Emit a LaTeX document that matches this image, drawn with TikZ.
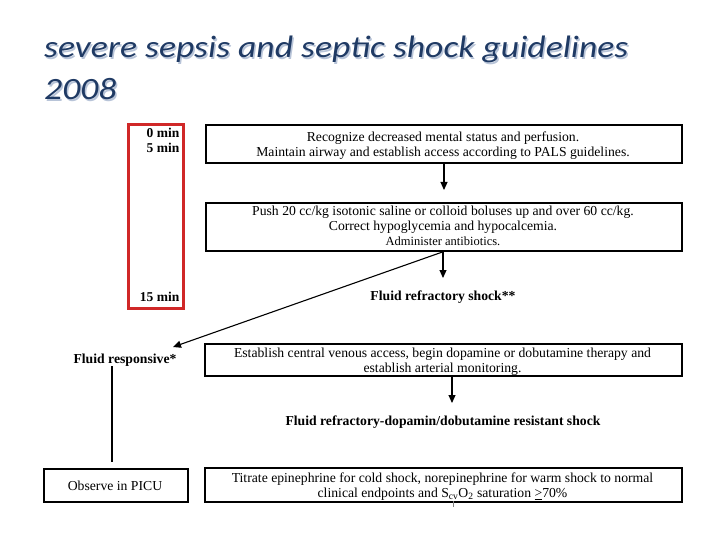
\documentclass[tikz,border=0pt]{standalone}
\usepackage{fontspec}
\setmainfont{Liberation Serif}
\newfontfamily\titlefont{Carlito}
\usetikzlibrary{arrows.meta}
\definecolor{titleblue}{HTML}{1F3A64}
\definecolor{shadowblue}{HTML}{B8C4D8}
\definecolor{boxred}{HTML}{D02828}
\tikzset{
  flowbox/.style={draw=black, line width=1.8pt, inner sep=0pt, anchor=north west},
  body/.style={font=\fontsize{13.7}{15.5}\selectfont, align=center, inner sep=0pt},
  boldlab/.style={font=\fontsize{13.7}{15}\selectfont\bfseries, inner sep=0pt},
  minlab/.style={font=\fontsize{13.5}{15}\selectfont\bfseries, inner sep=0pt, anchor=east},
  flowarrow/.style={-{Triangle[length=8pt,width=7pt]}, line width=1.1pt},
  ttl/.style={font=\titlefont\itshape\fontsize{31}{40}\selectfont, anchor=base west, inner sep=0pt, xscale=1.15}
}
\begin{document}
\begin{tikzpicture}[x=1pt,y=-1pt]
\useasboundingbox (0,0) rectangle (720,540);
% title
\node[ttl, text=shadowblue] at (45.5,59.5) {severe sepsis and septic shock guidelines};
\node[ttl, text=titleblue] (t1) at (44,58) {severe sepsis and septic shock guidelines};
\node[ttl, text=shadowblue] at (45.5,101.5) {2008};
\node[ttl, text=titleblue] (t2) at (44,100) {2008};
% red time box
\draw[boxred, line width=3pt] (128,124.5) rectangle (183.5,308);
\node[minlab] (m0) at (179.5,133) {0 min};
\node[minlab] (m5) at (179.5,148) {5 min};
\node[minlab] (m15) at (179.5,296.5) {15 min};
% boxes
\node[flowbox, minimum width=476pt, minimum height=38pt] (b1) at (205,124) {};
\node[body] (b1t) at (443,145.5) {Recognize decreased mental status and perfusion.\\Maintain airway and establish access according to PALS guidelines.};
\node[flowbox, minimum width=476pt, minimum height=48pt] (b2) at (205,202) {};
\node[body, font=\fontsize{13.7}{15}\selectfont] (b2t) at (443,219.5) {Push 20 cc/kg isotonic saline or colloid boluses up and over 60 cc/kg.\\Correct hypoglycemia and hypocalcemia.};
\node[body, font=\fontsize{12.5}{14}\selectfont] (b2u) at (443,241.5) {Administer antibiotics.};
\node[boldlab] (frs) at (443,297) {Fluid refractory shock**};
\node[boldlab] (fr) at (125,360) {Fluid responsive*};
\node[flowbox, minimum width=477pt, minimum height=32pt] (b3) at (204,343) {};
\node[body] (b3t) at (442.5,361.5) {Establish central venous access, begin dopamine or dobutamine therapy and\\establish arterial monitoring.};
\node[boldlab] (frd) at (443,422) {Fluid refractory-dopamin/dobutamine resistant shock};
\node[flowbox, minimum width=144pt, minimum height=33pt] (obs) at (43,468) {};
\node[body] (obst) at (115,486) {Observe in PICU};
\node[flowbox, minimum width=477pt, minimum height=34pt] (b4) at (204,467) {};
\node[body] (b4t) at (442.5,486.5) {Titrate epinephrine for cold shock, norepinephrine for warm shock to normal\\clinical endpoints and S\textsubscript{cv}O\textsubscript{2} saturation \underline{>}70\%};
% connectors
\coordinate (a1) at (444,190);
\coordinate (a2) at (443,278);
\coordinate (a3) at (452,403);
\coordinate (d1) at (173,347);
\coordinate (v0) at (112,366);
\coordinate (v1) at (112,462);
\coordinate (tk0) at (453,501);
\coordinate (tk1) at (453,507);
\draw[flowarrow] (b1.south -| a1) -- (a1);
\draw[flowarrow] (b2.south -| a2) -- (a2);
\draw[flowarrow] (b3.south -| a3) -- (a3);
\draw[flowarrow] (b2.south -| a2) -- (d1);
\draw[line width=1.1pt] (v0) -- (v1);
\draw[line width=0.6pt, gray] (tk0) -- (tk1);
\end{tikzpicture}
\end{document}
